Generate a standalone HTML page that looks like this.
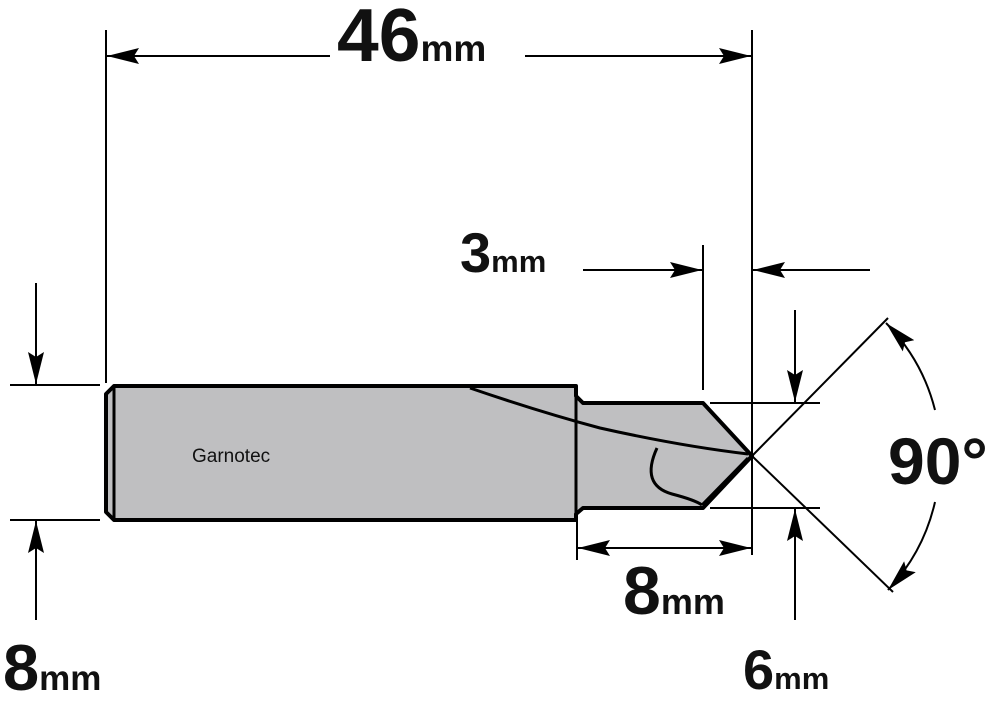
<!DOCTYPE html>
<html><head><style>
html,body{margin:0;padding:0;background:#fff;}
svg{display:block;}
text{font-family:"Liberation Sans",Arial,sans-serif;font-weight:bold;fill:#111;}
</style></head><body>
<svg width="1000" height="707" viewBox="0 0 1000 707" xmlns="http://www.w3.org/2000/svg">
<defs>
<marker id="a" markerWidth="32" markerHeight="16" refX="32" refY="8" orient="auto" markerUnits="userSpaceOnUse">
<path d="M0,0 L32,8 L0,16 L5,8 Z" fill="#000"/>
</marker>
</defs>
<g stroke="#000" stroke-width="2" fill="none">
<line x1="106" y1="30" x2="106" y2="383"/>
<line x1="752" y1="30" x2="752" y2="555"/>
<line x1="703" y1="245" x2="703" y2="390"/>
<line x1="577" y1="520" x2="577" y2="560"/>
<line x1="10" y1="385" x2="100" y2="385"/>
<line x1="10" y1="520" x2="100" y2="520"/>
<line x1="710" y1="403" x2="820" y2="403"/>
<line x1="710" y1="508" x2="820" y2="508"/>
<line x1="330" y1="56" x2="107" y2="56" marker-end="url(#a)"/>
<line x1="525" y1="56" x2="751" y2="56" marker-end="url(#a)"/>
<line x1="583" y1="270" x2="702" y2="270" marker-end="url(#a)"/>
<line x1="870" y1="270" x2="753" y2="270" marker-end="url(#a)"/>
<line x1="36" y1="283" x2="36" y2="384" marker-end="url(#a)"/>
<line x1="36" y1="620" x2="36" y2="521" marker-end="url(#a)"/>
<line x1="665" y1="548" x2="578" y2="548" marker-end="url(#a)"/>
<line x1="665" y1="548" x2="751" y2="548" marker-end="url(#a)"/>
<line x1="795" y1="310" x2="795" y2="402" marker-end="url(#a)"/>
<line x1="795" y1="620" x2="795" y2="509" marker-end="url(#a)"/>
<line x1="752" y1="456" x2="888" y2="318"/>
<line x1="752" y1="456" x2="893" y2="592"/>
<path d="M935,410 A190,190 0 0 0 886,323" marker-end="url(#a)"/>
<path d="M935,502 A190,190 0 0 1 888,590" marker-end="url(#a)"/>
</g>
<path d="M114,386 L576,386 L576,396 L583,403 L703,403 L752,456 L703,508 L583,508 L576,514 L576,520 L114,520 L106,512 L106,394 Z" fill="#bfbfc1" stroke="#000" stroke-width="4" stroke-linejoin="round"/>
<line x1="114" y1="388" x2="114" y2="518" stroke="#000" stroke-width="3"/>
<line x1="576" y1="396" x2="576" y2="514" stroke="#000" stroke-width="3"/>
<g stroke="#000" stroke-width="3" fill="none">
<path d="M470,388 Q540,412 600,428 Q680,446 748,454"/>
<path d="M657,448 Q640,485 672,494 Q695,500 702,505"/>
<path d="M702,505 L748,458"/>
</g>
<text x="192" y="462" font-size="19" style="font-weight:normal">Garnotec</text>
<text x="337" y="61" font-size="75">46<tspan font-size="37">mm</tspan></text>
<text x="460" y="272" font-size="56">3<tspan font-size="31">mm</tspan></text>
<text x="623" y="614" font-size="68">8<tspan font-size="36">mm</tspan></text>
<text x="3" y="690" font-size="65">8<tspan font-size="35">mm</tspan></text>
<text x="743" y="689" font-size="56">6<tspan font-size="31">mm</tspan></text>
<text x="888" y="484" font-size="66">90°</text>
</svg>
</body></html>
